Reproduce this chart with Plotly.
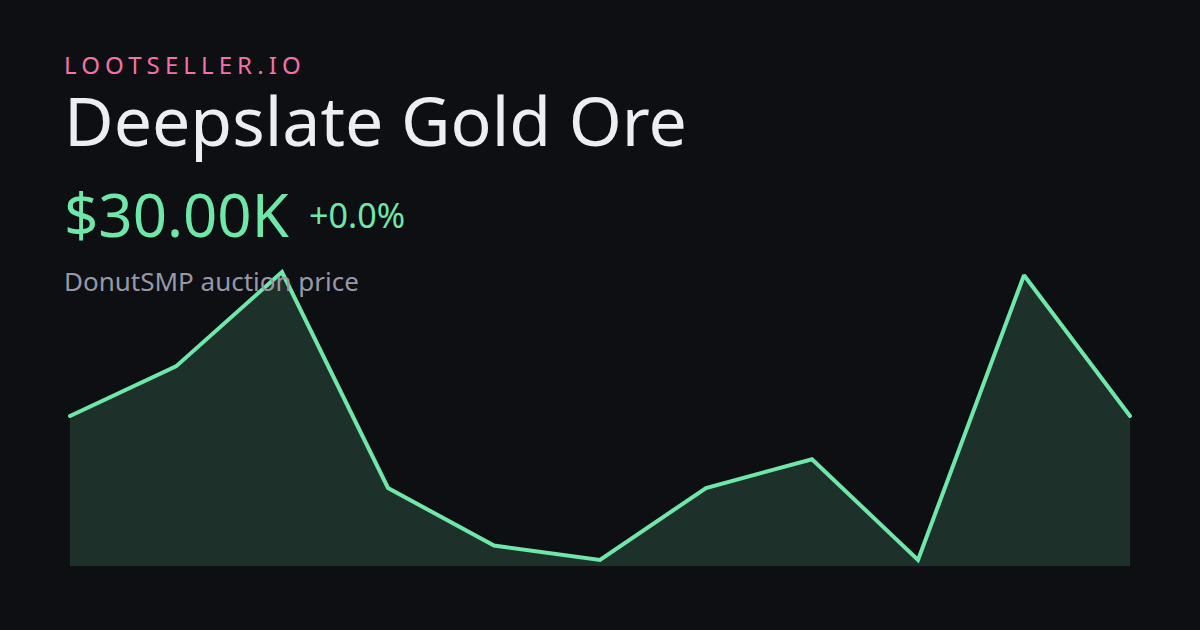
import plotly.graph_objects as go

# (thousands of dollars); last value printed as $30.00K
periods = list(range(11))
prices_k = [30.0, 33.1, 39.0, 25.5, 21.9, 21.0, 25.5, 27.3, 21.0, 38.8, 30.0]
brand = "LOOTSELLER.IO"
item = "Deepslate Gold Ore"
price_label = "$30.00K"
change_label = "+0.0%"
subtitle = "DonutSMP auction price"

BG = "#0d0f13"
GREEN = "#6ee7a8"
FILL = "#1e302a"
FONT = "Noto Sans"
L, R, B, W, H = 60, 60, 64, 1200, 630  # plot area a little wider than the data, so line ends are not cut
PH = H - B
PW = W - L - R
X_PAD = 10 / 106
Y_BASE = 20.625
PX_PER_K = 16.0


def ax(px):
    return (px - L) / PW


def ay(py):
    return (H - B - py) / PH


fig = go.Figure()
fig.add_trace(go.Scatter(
    x=periods, y=prices_k, mode="lines",
    line=dict(color=GREEN, width=4, shape="linear"),
    fill="tozeroy", fillcolor=FILL, hoverinfo="skip",
))


def text(s, px, py, size, color):
    fig.add_annotation(
        text=s, x=ax(px), y=ay(py), xref="paper", yref="paper",
        xanchor="left", yanchor="middle", align="left", showarrow=False,
        borderpad=0, borderwidth=0,
        font=dict(family=FONT, size=size, color=color),
    )


text(brand, 64, 64, 24, "#f472a6")
text(item, 64, 120, 68, "#eceef2")
text(price_label, 64, 214, 60, GREEN)
text(change_label, 309, 214, 32 * 95 / 89, GREEN)
text(subtitle, 64, 281, 26, "#9698a8")

fig.update_layout(
    width=W, height=H, autosize=False,
    margin=dict(l=L, r=R, t=0, b=B, pad=0),
    paper_bgcolor=BG, plot_bgcolor=BG, showlegend=False,
    xaxis=dict(range=[-X_PAD, 10 + X_PAD], visible=False, fixedrange=True),
    yaxis=dict(range=[Y_BASE, Y_BASE + PH / PX_PER_K], visible=False, fixedrange=True),
)
post = f"""
document.body.style.margin='0';
document.body.style.background='{BG}';
document.querySelectorAll('.annotation-text').forEach(function(t){{
  if (t.textContent === '{brand}') t.style.letterSpacing = '5.1px';
}});
document.querySelectorAll('.js-line').forEach(function(p){{
  p.style.strokeLinecap = 'round';
}});
"""
fig.write_html("out.html", config={"displayModeBar": False}, post_script=post)
